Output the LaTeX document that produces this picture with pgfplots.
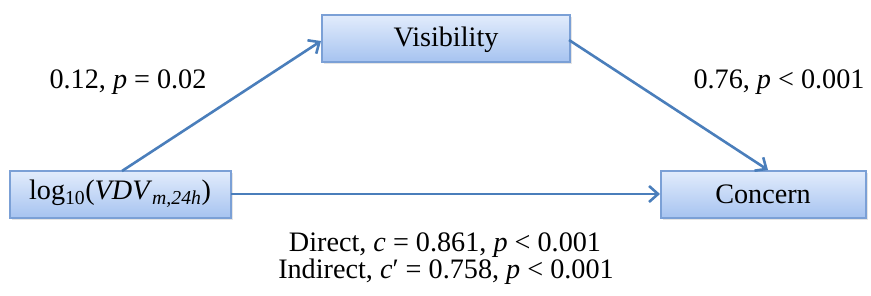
\documentclass[border=0pt]{standalone}
\usepackage{fontspec}
\setmainfont{Liberation Serif}
\usepackage{pgfplots}
\pgfplotsset{compat=1.18}
\usetikzlibrary{arrows.meta}
\definecolor{arrowc}{HTML}{4A7EBB}
\definecolor{boxborder}{HTML}{7BA0D6}
\definecolor{boxtop}{HTML}{E2ECFC}
\definecolor{boxbot}{HTML}{A6C3F0}
\begin{document}
\begin{tikzpicture}
\begin{axis}[
  scale only axis, width=871bp, height=296bp,
  xmin=0, xmax=871, ymin=0, ymax=296, y dir=reverse,
  hide axis, clip=false,
]
% shadows
\fill[black!10] (axis cs:324,17) rectangle (axis cs:572,64);
\fill[black!10] (axis cs:12,173) rectangle (axis cs:233,220);
\fill[black!10] (axis cs:663,173) rectangle (axis cs:868,220);
% boxes
\draw[boxborder, line width=1.2bp, top color=boxtop, bottom color=boxbot] (axis cs:322,15) rectangle (axis cs:570,62);
\draw[boxborder, line width=1.2bp, top color=boxtop, bottom color=boxbot] (axis cs:10,171) rectangle (axis cs:231,218);
\draw[boxborder, line width=1.2bp, top color=boxtop, bottom color=boxbot] (axis cs:661,171) rectangle (axis cs:866,218);
% arrows
\addplot[arrowc, line width=2.6bp, -{Straight Barb[length=9bp,width=16bp,line width=2.6bp]}] coordinates {(122,171) (321,41)};
\addplot[arrowc, line width=2.6bp, -{Straight Barb[length=9bp,width=16bp,line width=2.6bp]}] coordinates {(569,40) (768,170)};
\addplot[arrowc, line width=2.6bp, -{Straight Barb[length=9bp,width=16bp,line width=2.6bp]}] coordinates {(231,194) (660,194)};
% labels
\node[font=\fontsize{28.3}{30}\selectfont] at (axis cs:446,40) {Visibility};
\node[font=\fontsize{28.3}{30}\selectfont] at (axis cs:120,194) {log\textsubscript{10}(\textit{VDV}\textsubscript{\textit{m,24h}})};
\node[font=\fontsize{28.3}{30}\selectfont] at (axis cs:763,194) {Concern};
\node[font=\fontsize{28.3}{30}\selectfont] at (axis cs:128,82) {0.12, \textit{p} = 0.02};
\node[font=\fontsize{28.3}{30}\selectfont] at (axis cs:779,82) {0.76, \textit{p} < 0.001};
\node[font=\fontsize{28.3}{30}\selectfont] at (axis cs:445,245) {Direct, \textit{c} = 0.861, \textit{p} < 0.001};
\node[font=\fontsize{28.3}{30}\selectfont] at (axis cs:446,272) {Indirect, \textit{c}′ = 0.758, \textit{p} < 0.001};
\end{axis}
\pgfresetboundingbox
\useasboundingbox (0,0) rectangle (871bp,296bp);
\end{tikzpicture}
\end{document}
